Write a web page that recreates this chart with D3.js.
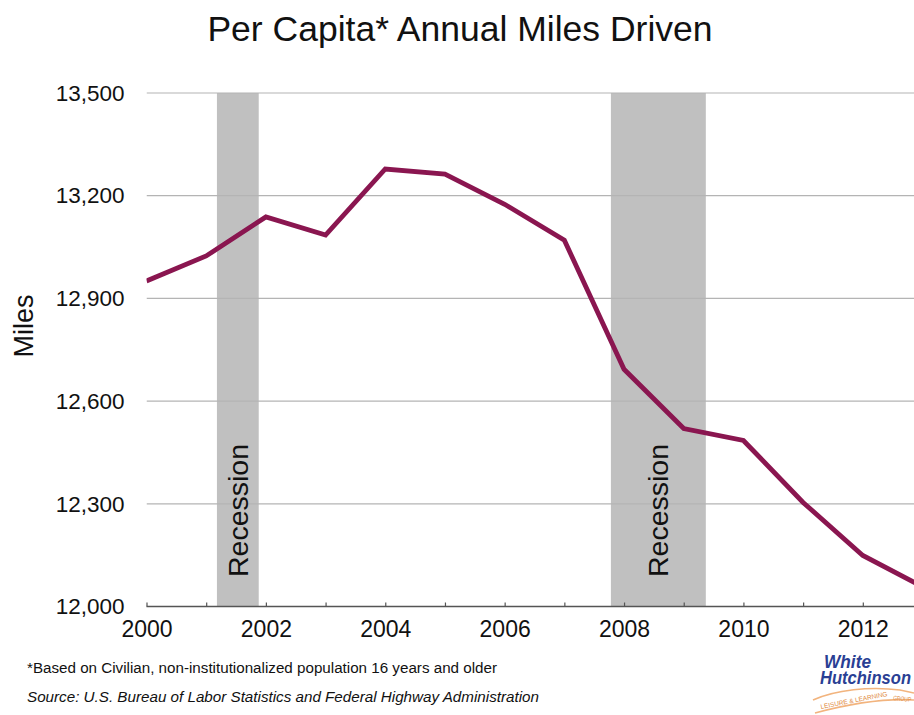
<!DOCTYPE html>
<html>
<head>
<meta charset="utf-8">
<script src="https://cdn.jsdelivr.net/npm/d3@7"></script>
<style>
  html, body { margin: 0; padding: 0; background: #fff; }
  svg { display: block; font-family: "Liberation Sans", Arial, Helvetica, sans-serif; }
</style>
</head>
<body>
<svg id="chart" width="914" height="715"></svg>
<script>
// ---- data ----
const years = [2000, 2001, 2002, 2003, 2004, 2005, 2006, 2007, 2008, 2009, 2010, 2011, 2012, 2013];
const miles = [12951, 13024, 13138, 13085, 13278, 13263, 13175, 13070, 12693, 12520, 12485, 12304, 12149, 12058];
const recessionStarts = [2001.18, 2007.78];
const recessionEnds = [2001.88, 2009.37];
const recessionLabels = ["Recession", "Recession"];
const yTicks = [12000, 12300, 12600, 12900, 13200, 13500];
const xLabelYears = [2000, 2002, 2004, 2006, 2008, 2010, 2012];
const titleText = "Per Capita* Annual Miles Driven";
const yAxisTitle = "Miles";
const footnote = "*Based on Civilian, non-institutionalized population 16 years and older";
const sourceText = "Source: U.S. Bureau of Labor Statistics and Federal Highway Administration";

// ---- layout ----
const svg = d3.select("#chart");
const mLeft = 146.5, mRight = 922.5, mTop = 93, mBottom = 606.5;

const x = d3.scaleLinear().domain([2000, 2013]).range([mLeft, mRight]);
const y = d3.scaleLinear().domain([12000, 13500]).range([mBottom, mTop]);

// title
svg.append("text")
  .attr("x", 460).attr("y", 41)
  .attr("text-anchor", "middle")
  .attr("font-size", 35.5)
  .attr("fill", "#111")
  .text(titleText);

// clip to the visible window
svg.append("clipPath").attr("id", "clip")
  .append("rect").attr("x", mLeft).attr("y", 0).attr("width", 914 - mLeft).attr("height", 715);

const plot = svg.append("g").attr("clip-path", "url(#clip)");

// recession bands
const rec = recessionStarts.map((s, i) => ({ s, e: recessionEnds[i], label: recessionLabels[i] }));
plot.selectAll("rect.band").data(rec).enter().append("rect")
  .attr("class", "band")
  .attr("x", d => x(d.s))
  .attr("width", d => x(d.e) - x(d.s))
  .attr("y", y(13500))
  .attr("height", y(12000) - y(13500))
  .attr("fill", "#c0c0c0");

// gridlines
plot.selectAll("line.grid").data(yTicks.filter(t => t !== 12000)).enter().append("line")
  .attr("class", "grid")
  .attr("x1", mLeft).attr("x2", 914)
  .attr("y1", d => y(d)).attr("y2", d => y(d))
  .attr("stroke", "#b4b4b4").attr("stroke-width", 1.2);

// recession labels
plot.selectAll("text.rec").data(rec).enter().append("text")
  .attr("class", "rec")
  .attr("transform", d => `translate(${(x(d.s) + x(d.e)) / 2 + 10},577) rotate(-90)`)
  .attr("font-size", 28.5)
  .attr("fill", "#111")
  .text(d => d.label);

// x axis
const xAxis = d3.axisBottom(x)
  .tickValues(years)
  .tickSize(-4)
  .tickPadding(14)
  .tickFormat(d => xLabelYears.includes(d) ? d3.format("d")(d) : "");
const gx = svg.append("g")
  .attr("transform", `translate(0,${mBottom})`)
  .call(xAxis);
gx.select(".domain").attr("stroke", "#555").attr("stroke-width", 1.6).attr("d", `M${mLeft},0H914`);
gx.selectAll(".tick line").attr("stroke", "#555").attr("stroke-width", 1.2);
gx.selectAll(".tick text")
  .attr("font-family", "Liberation Sans, Arial, sans-serif")
  .attr("font-size", 23).attr("fill", "#111");

// y axis labels
const yAxis = d3.axisLeft(y)
  .tickValues(yTicks)
  .tickSize(0)
  .tickPadding(22)
  .tickFormat(d3.format(","));
const gy = svg.append("g")
  .attr("transform", `translate(${mLeft},0)`)
  .call(yAxis);
gy.select(".domain").remove();
gy.selectAll(".tick text")
  .attr("font-family", "Liberation Sans, Arial, sans-serif")
  .attr("font-size", 22.5).attr("fill", "#111");

// y-axis title
svg.append("text")
  .attr("transform", "translate(33,326) rotate(-90)")
  .attr("text-anchor", "middle")
  .attr("font-size", 27)
  .attr("fill", "#111")
  .text(yAxisTitle);

// line
const line = d3.line().x((d, i) => x(years[i])).y(d => y(d));
plot.append("path")
  .datum(miles)
  .attr("d", line)
  .attr("fill", "none")
  .attr("stroke", "#8a1650")
  .attr("stroke-width", 4.8)
  .attr("stroke-linejoin", "miter");

// footnotes
svg.append("text")
  .attr("x", 27).attr("y", 673)
  .attr("font-size", 15.5)
  .attr("fill", "#111")
  .attr("textLength", 470).attr("lengthAdjust", "spacingAndGlyphs")
  .text(footnote);
svg.append("text")
  .attr("x", 27).attr("y", 702)
  .attr("font-size", 15.5)
  .attr("font-style", "italic")
  .attr("fill", "#111")
  .attr("textLength", 512).attr("lengthAdjust", "spacingAndGlyphs")
  .text(sourceText);

// logo
const logo = svg.append("g");
logo.append("path")
  .attr("d", "M813,700 C835,690 870,686 900,690 L914,693")
  .attr("fill", "none").attr("stroke", "#f2b47e").attr("stroke-width", 1.6);
logo.append("path")
  .attr("d", "M815,713 C845,705 880,698 914,700")
  .attr("fill", "none").attr("stroke", "#f2b47e").attr("stroke-width", 1.6);
logo.append("text")
  .attr("x", 824).attr("y", 668)
  .attr("font-size", 18).attr("font-weight", "bold").attr("font-style", "italic")
  .attr("fill", "#2a3f94")
  .attr("textLength", 47).attr("lengthAdjust", "spacingAndGlyphs")
  .text("White");
logo.append("text")
  .attr("x", 820).attr("y", 684)
  .attr("font-size", 18).attr("font-weight", "bold").attr("font-style", "italic")
  .attr("fill", "#2a3f94")
  .attr("textLength", 91).attr("lengthAdjust", "spacingAndGlyphs")
  .text("Hutchinson");
logo.append("text")
  .attr("transform", "translate(821,709) rotate(-11)")
  .attr("font-size", 6.5).attr("fill", "#e08a40")
  .attr("textLength", 68).attr("lengthAdjust", "spacingAndGlyphs")
  .text("LEISURE & LEARNING");
logo.append("text")
  .attr("transform", "translate(893,700) rotate(6)")
  .attr("font-size", 6.5).attr("fill", "#e08a40")
  .attr("textLength", 18).attr("lengthAdjust", "spacingAndGlyphs")
  .text("GROUP");
</script>
</body>
</html>
